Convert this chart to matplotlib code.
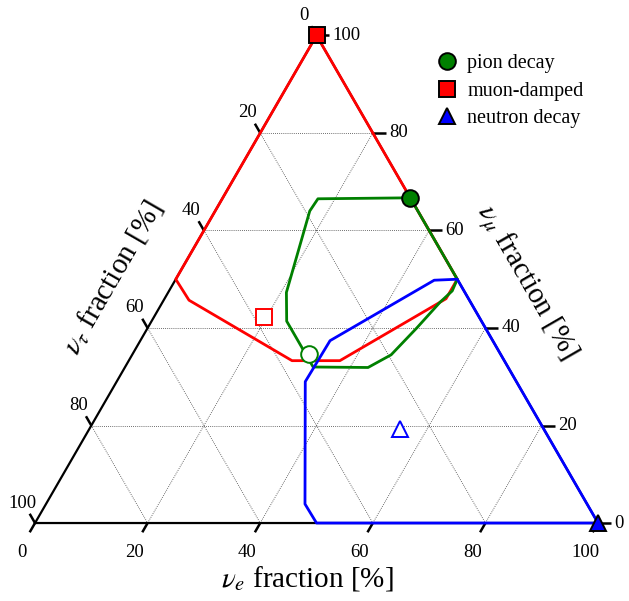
import numpy as np
import matplotlib
matplotlib.use("Agg")
import matplotlib.pyplot as plt
from matplotlib.lines import Line2D

plt.rcParams['font.family'] = 'serif'
plt.rcParams['font.serif'] = ['Liberation Serif', 'DejaVu Serif']
plt.rcParams['mathtext.fontset'] = 'stix'

# flavour fractions in percent: (nu_e, nu_mu); nu_tau = 100 - e - mu
muon_region_e = [0, 0, 4.5, 29, 37.5, 50, 50, 0]
muon_region_mu = [100, 50, 45.7, 33.3, 33.3, 46, 50, 100]

pion_region_e = [33.3, 17, 16.8, 21, 24, 33.4, 43.2, 46, 47.8, 49.3, 50.3, 50, 33.3]
pion_region_mu = [66.7, 66.5, 64, 47.3, 41.4, 32, 31.9, 34.5, 40, 45.3, 47.6, 50, 66.7]

neutron_region_e = [100, 50, 46, 33.5, 33.7, 46, 50, 100]
neutron_region_mu = [0, 0, 3.9, 29, 37.4, 49.8, 50, 0]

# source compositions and the compositions arriving at Earth
source_e = [33.3, 0, 100]
source_mu = [66.7, 100, 0]
earth_e = [31.4, 19.6, 55.2]
earth_mu = [34.6, 42.2, 19.3]
source_names = ['pion decay', 'muon-damped', 'neutron decay']
colors = ['green', 'red', 'blue']
markers = ['o', 's', '^']
marker_sizes = [12, 11, 12]

ticks = [0, 20, 40, 60, 80, 100]
H = np.sqrt(3) / 2


def cart(e, mu):
    e = np.asarray(e, dtype=float)
    mu = np.asarray(mu, dtype=float)
    return e + mu / 2, mu * H


fig = plt.figure(figsize=(6.29, 6.01), dpi=100)
ax = fig.add_axes([0, 0, 1, 1])
ax.set_xlim(-6.22, 105.5)
ax.set_ylim(-13.85, 92.9)
ax.axis('off')

# grid
grid_kw = dict(color='0.25', lw=0.6, ls=(0, (1, 1.5)), zorder=1)
for v in ticks[1:-1]:
    ax.plot(*cart([0, 100 - v], [v, v]), **grid_kw)
    ax.plot(*cart([v, v], [0, 100 - v]), **grid_kw)
    ax.plot(*cart([0, v], [v, 0]), **grid_kw)

# frame
ax.plot(*cart([0, 100, 0, 0], [0, 0, 100, 0]), color='black', lw=1.6, zorder=2)

# regions
for re, rmu, c in [(muon_region_e, muon_region_mu, 'red'),
                   (pion_region_e, pion_region_mu, 'green'),
                   (neutron_region_e, neutron_region_mu, 'blue')]:
    ax.plot(*cart(re, rmu), color=c, lw=2.0, zorder=3)

# ticks and tick labels
tl = 1.9
px = 0.72  # points per pixel
for v in ticks:
    # nu_e along the bottom
    x0, y0 = cart(v, 0)
    ax.plot([x0, x0 - 0.5 * tl], [y0, y0 - H * tl], color='black', lw=1.8, zorder=2,
            solid_capstyle='butt')
    ax.annotate(str(v), (x0, y0), xytext=(-13 * px, -29.5 * px), textcoords='offset points',
                ha='center', va='center', fontsize=13.5)
    # nu_mu along the right edge
    x0, y0 = cart(100 - v, v)
    ax.plot([x0, x0 + 2.3], [y0, y0], color='black', lw=1.8, zorder=2,
            solid_capstyle='butt')
    ax.annotate(str(v), (x0, y0), xytext=(16 * px, 0), textcoords='offset points',
                ha='left', va='center', fontsize=13.5)
    # nu_tau along the left edge
    x0, y0 = cart(0, 100 - v)
    ax.plot([x0, x0 - 0.5 * tl], [y0, y0 + H * tl], color='black', lw=1.8, zorder=2,
            solid_capstyle='butt')
    ax.annotate(str(v), (x0, y0), xytext=(-13 * px, 20 * px), textcoords='offset points',
                ha='center', va='center', fontsize=13.5)

# axis titles
ax.text(48.4, -9.8, r'$\nu_e$ fraction [%]', fontsize=21, ha='center', va='center')
ax.text(13.7, 43.7, r'$\nu_\tau$ fraction [%]', fontsize=21, ha='center', va='center',
        rotation=60, rotation_mode='anchor')
ax.text(87.4, 42.8, r'$\nu_\mu$ fraction [%]', fontsize=21, ha='center', va='center',
        rotation=-60, rotation_mode='anchor')

# source and Earth markers
for i in range(3):
    sx, sy = cart(source_e[i], source_mu[i])
    ax.plot(sx, sy, marker=markers[i], ms=marker_sizes[i], mfc=colors[i], mec='black',
            mew=1.4, ls='none', zorder=5, clip_on=False)
    ex, ey = cart(earth_e[i], earth_mu[i])
    ax.plot(ex, ey, marker=markers[i], ms=marker_sizes[i], mfc='white', mec=colors[i],
            mew=1.4, ls='none', zorder=5)

handles = [Line2D([], [], marker=markers[i], ms=marker_sizes[i], mfc=colors[i], mec='black',
                  mew=1.4, ls='none') for i in range(3)]
fig.legend(handles, source_names, loc='upper left', bbox_to_anchor=(0.695, 0.910),
           frameon=False, fontsize=14.5, handlelength=1.0, handletextpad=0.5,
           borderpad=0, labelspacing=0.42, borderaxespad=0)

fig.savefig('out.png', dpi=100)
